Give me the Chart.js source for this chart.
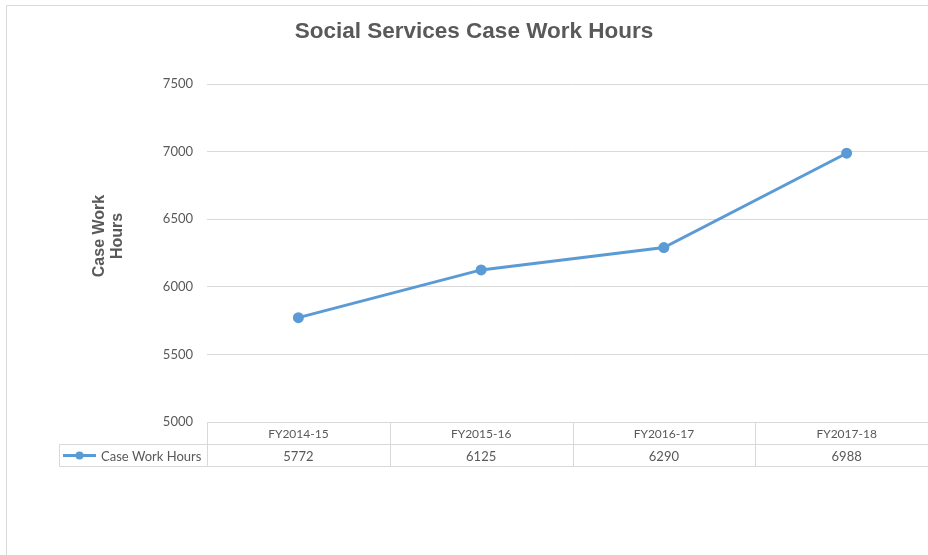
<!DOCTYPE html>
<html>
<head>
<meta charset="utf-8">
<script src="https://cdn.jsdelivr.net/npm/chart.js@4"></script>
<style>
html,body{margin:0;padding:0;background:#fff;overflow:hidden;width:928px;height:555px;}
#wrap{position:relative;width:948px;height:555px;}
</style>
</head>
<body>
<div id="wrap"><canvas id="c" width="948" height="555"></canvas></div>
<script>
const chartTitle = "Social Services Case Work Hours";
const yAxisTitle = ["Case Work", "Hours"];
const categories = ["FY2014-15", "FY2015-16", "FY2016-17", "FY2017-18"];
const seriesName = "Case Work Hours";
const seriesValues = [5772, 6125, 6290, 6988];
const yTicks = [5000, 5500, 6000, 6500, 7000, 7500];

const LINE = "#5b9bd5";
const GRID = "#d9d9d9";
const TXT = "#595959";
const FAM = "Lato, 'Open Sans', sans-serif";

const decor = {
  id: "decor",
  afterDraw(chart) {
    const ctx = chart.ctx;
    const x = chart.scales.x;
    const ca = chart.chartArea;
    ctx.save();
    // frame
    ctx.strokeStyle = GRID; ctx.lineWidth = 1;
    ctx.beginPath();
    ctx.moveTo(6.5, 555); ctx.lineTo(6.5, 5.5); ctx.lineTo(948, 5.5);
    ctx.stroke();
    // title
    ctx.fillStyle = TXT;
    ctx.font = "bold 22.5px 'Liberation Sans', Arial, sans-serif";
    ctx.textAlign = "center"; ctx.textBaseline = "middle";
    ctx.fillText(chartTitle, 474, 32);
    // y axis title
    ctx.save();
    ctx.translate(109, 236);
    ctx.rotate(-Math.PI / 2);
    ctx.font = "bold 16px 'Liberation Sans', Arial, sans-serif";
    ctx.fillText(yAxisTitle[0], 0, -9);
    ctx.fillText(yAxisTitle[1], 0, 9);
    ctx.restore();
    // data table
    const rowH = 22;
    const top = Math.round(ca.bottom) + 0.5;
    const n = categories.length;
    const half = (x.getPixelForValue(1) - x.getPixelForValue(0)) / 2;
    const bounds = [];
    for (let i = 0; i < n; i++) bounds.push(x.getPixelForValue(i) - half);
    bounds.push(x.getPixelForValue(n - 1) + half);
    ctx.strokeStyle = GRID; ctx.lineWidth = 1;
    ctx.beginPath();
    ctx.moveTo(bounds[0], top); ctx.lineTo(bounds[n], top);
    ctx.moveTo(59, top + rowH); ctx.lineTo(bounds[n], top + rowH);
    ctx.moveTo(59, top + 2 * rowH); ctx.lineTo(bounds[n], top + 2 * rowH);
    for (let i = 0; i <= n; i++) {
      const bx = Math.round(bounds[i]) + 0.5;
      ctx.moveTo(bx, top); ctx.lineTo(bx, top + 2 * rowH);
    }
    ctx.moveTo(59.5, top + rowH); ctx.lineTo(59.5, top + 2 * rowH);
    ctx.stroke();
    ctx.fillStyle = TXT;
    ctx.textAlign = "center"; ctx.textBaseline = "middle";
    for (let i = 0; i < n; i++) {
      const cx = x.getPixelForValue(i);
      ctx.font = "12px " + FAM;
      ctx.fillText(categories[i], cx, top + rowH / 2 + 1);
      ctx.font = "13px " + FAM;
      ctx.fillText(String(seriesValues[i]), cx, top + rowH * 1.5 + 1);
    }
    // legend key
    const ly = top + rowH * 1.5;
    ctx.strokeStyle = LINE; ctx.lineWidth = 3;
    ctx.beginPath(); ctx.moveTo(63, ly); ctx.lineTo(96, ly); ctx.stroke();
    ctx.fillStyle = LINE;
    ctx.beginPath(); ctx.arc(79.5, ly, 4, 0, Math.PI * 2); ctx.fill();
    ctx.fillStyle = TXT; ctx.textAlign = "left";
    ctx.font = "13px " + FAM;
    ctx.fillText(seriesName, 101, ly + 1);
    ctx.restore();
  }
};

new Chart(document.getElementById("c"), {
  type: "line",
  data: {
    labels: categories,
    datasets: [{
      label: seriesName,
      data: seriesValues,
      borderColor: LINE,
      backgroundColor: LINE,
      borderWidth: 3,
      pointRadius: 4,
      pointHoverRadius: 4,
      pointBackgroundColor: LINE,
      pointBorderColor: LINE,
      tension: 0
    }]
  },
  options: {
    responsive: false,
    animation: false,
    events: [],
    layout: { padding: { left: 0, right: 10, top: 84, bottom: 0 } },
    plugins: { legend: { display: false }, title: { display: false }, tooltip: { enabled: false } },
    scales: {
      x: {
        offset: true,
        grid: { display: false, drawTicks: false },
        border: { display: false },
        ticks: { display: false },
        afterFit(s) { s.height = 133; }
      },
      y: {
        min: 5000, max: 7500,
        afterBuildTicks(s) { s.ticks = yTicks.map(v => ({ value: v })); },
        grid: { color: GRID, drawTicks: false, lineWidth: 1 },
        border: { display: false },
        ticks: { color: TXT, font: { family: FAM, size: 13 }, padding: 14, callback: v => String(v) },
        afterFit(s) { s.width = 207; }
      }
    }
  },
  plugins: [decor]
});
</script>
</body>
</html>
